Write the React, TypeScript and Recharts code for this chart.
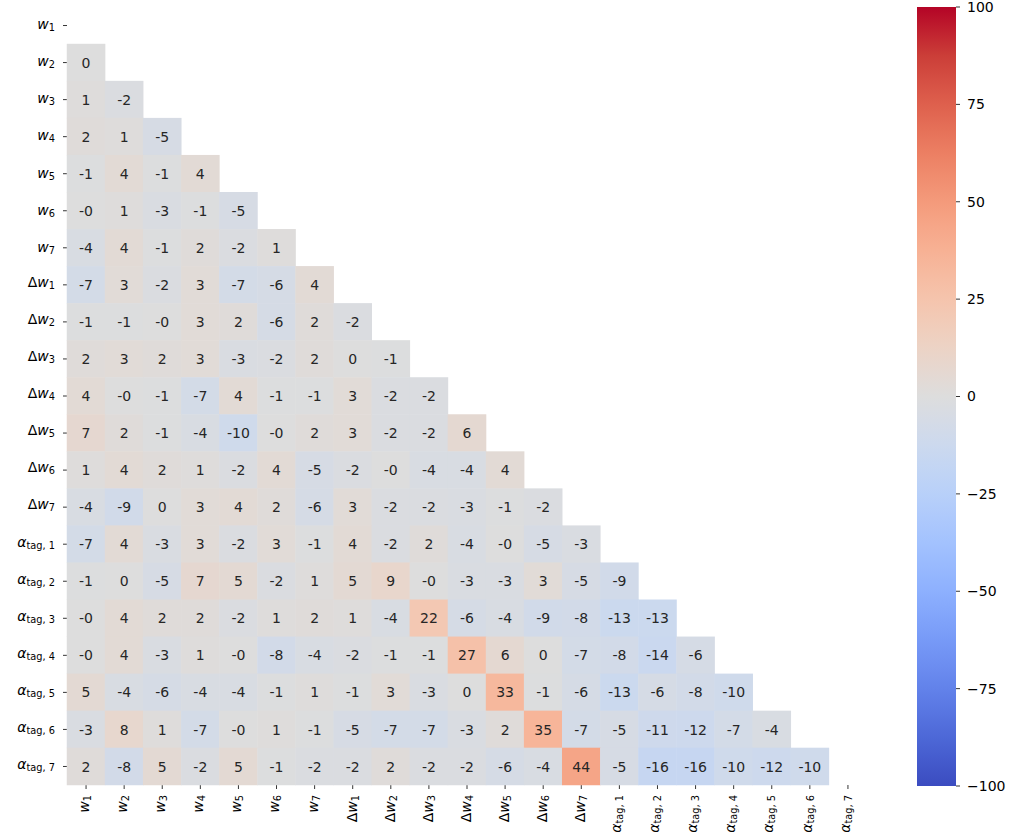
import React from 'react';
import { ScatterChart, Scatter, XAxis, YAxis, BarChart, Bar } from 'recharts';

const FONT = '"DejaVu Sans", sans-serif';

// variable names, "base_sub"
const LABELS = [
  'w_1', 'w_2', 'w_3', 'w_4', 'w_5', 'w_6', 'w_7',
  'Δw_1', 'Δw_2', 'Δw_3', 'Δw_4', 'Δw_5', 'Δw_6', 'Δw_7',
  'α_tag, 1', 'α_tag, 2', 'α_tag, 3', 'α_tag, 4', 'α_tag, 5', 'α_tag, 6', 'α_tag, 7',
];

// lower triangle of the correlation matrix (%), row i has i entries
// -0.3 stands for the cells printed as "-0"
const CORR_ROWS: number[][] = [
  [],
  [0],
  [1, -2],
  [2, 1, -5],
  [-1, 4, -1, 4],
  [-0.3, 1, -3, -1, -5],
  [-4, 4, -1, 2, -2, 1],
  [-7, 3, -2, 3, -7, -6, 4],
  [-1, -1, -0.3, 3, 2, -6, 2, -2],
  [2, 3, 2, 3, -3, -2, 2, 0, -1],
  [4, -0.3, -1, -7, 4, -1, -1, 3, -2, -2],
  [7, 2, -1, -4, -10, -0.3, 2, 3, -2, -2, 6],
  [1, 4, 2, 1, -2, 4, -5, -2, -0.3, -4, -4, 4],
  [-4, -9, 0, 3, 4, 2, -6, 3, -2, -2, -3, -1, -2],
  [-7, 4, -3, 3, -2, 3, -1, 4, -2, 2, -4, -0.3, -5, -3],
  [-1, 0, -5, 7, 5, -2, 1, 5, 9, -0.3, -3, -3, 3, -5, -9],
  [-0.3, 4, 2, 2, -2, 1, 2, 1, -4, 22, -6, -4, -9, -8, -13, -13],
  [-0.3, 4, -3, 1, -0.3, -8, -4, -2, -1, -1, 27, 6, 0, -7, -8, -14, -6],
  [5, -4, -6, -4, -4, -1, 1, -1, 3, -3, 0, 33, -1, -6, -13, -6, -8, -10],
  [-3, 8, 1, -7, -0.3, 1, -1, -5, -7, -7, -3, 2, 35, -7, -5, -11, -12, -7, -4],
  [2, -8, 5, -2, 5, -1, -2, -2, 2, -2, -2, -6, -4, 44, -5, -16, -16, -10, -12, -10],
];

const CBAR_TICKS = [-100, -75, -50, -25, 0, 25, 50, 75, 100];

// matplotlib coolwarm, sampled every 1/16
const COOLWARM = [
  '#3b4cc0', '#4d68d7', '#6282ea', '#779af7', '#8db0fe', '#a3c2fe', '#b8d0f9', '#ccd9ee',
  '#dddddd', '#ecd3c5', '#f5c4ad', '#f7b194', '#f49a7b', '#ec7f63', '#de604d', '#cb3e38', '#b40426',
];

const hexToRgb = (h: string) => [1, 3, 5].map((i) => parseInt(h.slice(i, i + 2), 16));

const coolwarm = (t: number) => {
  const c = Math.max(0, Math.min(1, t)) * (COOLWARM.length - 1);
  const i = Math.min(Math.floor(c), COOLWARM.length - 2);
  const f = c - i;
  const a = hexToRgb(COOLWARM[i]);
  const b = hexToRgb(COOLWARM[i + 1]);
  const rgb = a.map((v, k) => Math.round(v + (b[k] - v) * f));
  return `rgb(${rgb.join(',')})`;
};

const N = LABELS.length;
const W = 1011;
const H = 840;
const PLOT = { left: 67, top: 7, right: 867, bottom: 785 };
const CELL_W = (PLOT.right - PLOT.left) / N;
const CELL_H = (PLOT.bottom - PLOT.top) / N;

const cells = CORR_ROWS.flatMap((row, i) =>
  row.map((v, j) => ({ x: j + 0.5, y: i + 0.5, v }))
);
const tickPos = LABELS.map((_l, i) => i + 0.5);

const fmt = (v: number) => {
  const r = Math.round(v);
  if (r === 0) return v < 0 ? '-0' : '0';
  return String(r);
};

const MathLabel = ({ label, size }: { label: string; size: number }) => {
  const [main, sub] = label.split('_');
  const parts =
    main[0] === 'Δ' ? (
      <>
        <tspan>Δ</tspan>
        <tspan fontStyle="italic">{main.slice(1)}</tspan>
      </>
    ) : (
      <tspan fontStyle="italic">{main}</tspan>
    );
  return (
    <>
      {parts}
      <tspan fontSize={size * 0.7} dy={2}>
        {sub}
      </tspan>
    </>
  );
};

const kind = (label: string) => (label[0] === 'Δ' ? 'd' : label[0] === 'α' ? 'a' : 'w');

const YTick = (props: any) => {
  const { x, y, payload } = props;
  const label = LABELS[Math.floor(payload.value)];
  const off = { w: 3.8, d: 2, a: 2.5 }[kind(label)];
  return (
    <text x={x} y={y + off} textAnchor="end" fontSize={14} fontFamily={FONT} fill="#000">
      <MathLabel label={label} size={14} />
    </text>
  );
};

const XTick = (props: any) => {
  const { x, y, payload } = props;
  const label = LABELS[Math.floor(payload.value)];
  const off = { w: 2.9, d: 4, a: 1.7 }[kind(label)];
  return (
    <text
      x={x + off}
      y={y}
      transform={`rotate(-90, ${x + off}, ${y})`}
      textAnchor="end"
      fontSize={14}
      fontFamily={FONT}
      fill="#000"
    >
      <MathLabel label={label} size={14} />
    </text>
  );
};

const HeatCell = (props: any) => {
  const { cx, cy, payload } = props;
  const v = payload.v;
  return (
    <g>
      <rect
        x={cx - CELL_W / 2 - 0.25}
        y={cy - CELL_H / 2 - 0.25}
        width={CELL_W + 0.5}
        height={CELL_H + 0.5}
        fill={coolwarm((v + 100) / 200)}
      />
      <text
        x={cx}
        y={cy}
        dy="0.365em"
        textAnchor="middle"
        fontSize={14}
        fontFamily={FONT}
        fill="#262626"
      >
        {fmt(v)}
      </text>
    </g>
  );
};

const gradStops = Array.from({ length: 33 }, (_x, k) => k / 32);

const ColorBar = () => (
  <BarChart
    width={111}
    height={H}
    data={[{ name: 'cb', range: [-100, 100] }]}
    margin={{ top: 7, right: 0, bottom: 54, left: 17 }}
    barCategoryGap={0}
  >
    <defs>
      <linearGradient id="coolwarmGrad" x1="0" y1="0" x2="0" y2="1">
        {gradStops.map((o) => (
          <stop key={o} offset={o} stopColor={coolwarm(1 - o)} />
        ))}
      </linearGradient>
    </defs>
    <XAxis dataKey="name" hide />
    <YAxis
      orientation="right"
      width={55}
      type="number"
      domain={[-100, 100]}
      ticks={CBAR_TICKS}
      interval={0}
      axisLine={false}
      tickSize={4}
      tickMargin={7}
      tickLine={{ stroke: '#000', strokeWidth: 0.8 }}
      tickFormatter={(v: number) => (v < 0 ? `\u2212${Math.abs(v)}` : String(v))}
      tick={{ fontSize: 14, fill: '#000', fontFamily: FONT, textAnchor: 'start' }}
    />
    <Bar dataKey="range" fill="url(#coolwarmGrad)" isAnimationActive={false} />
  </BarChart>
);

export default function App() {
  return (
    <div style={{ position: 'absolute', left: 0, top: 0, width: W, height: H, background: '#fff' }}>
      <ScatterChart
        width={W}
        height={H}
        margin={{ top: PLOT.top, right: W - PLOT.right, bottom: 0, left: 0 }}
      >
        <XAxis
          type="number"
          dataKey="x"
          domain={[0, N]}
          ticks={tickPos}
          interval={0}
          height={H - PLOT.bottom}
          axisLine={false}
          tickSize={4}
          tickMargin={6}
          tickLine={{ stroke: '#000', strokeWidth: 0.8 }}
          tick={<XTick />}
        />
        <YAxis
          type="number"
          dataKey="y"
          domain={[0, N]}
          reversed
          ticks={tickPos}
          interval={0}
          width={PLOT.left}
          axisLine={false}
          tickSize={4}
          tickMargin={8}
          tickLine={{ stroke: '#000', strokeWidth: 0.8 }}
          tick={<YTick />}
        />
        <Scatter data={cells} shape={<HeatCell />} isAnimationActive={false} />
      </ScatterChart>
      <div style={{ position: 'absolute', left: 900, top: 0 }}>
        <ColorBar />
      </div>
    </div>
  );
}
